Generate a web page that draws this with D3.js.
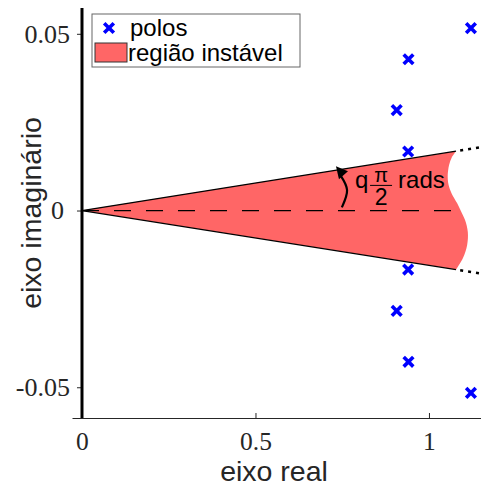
<!DOCTYPE html>
<html>
<head>
<meta charset="utf-8">
<script src="https://cdn.jsdelivr.net/npm/d3@7"></script>
<style>
  body { margin: 0; background: #fff; }
  svg { display: block; }
</style>
</head>
<body>
<div class="chart"></div>
<script>
// poles (real, imag)
const poleRe = [1.121, 0.941, 0.907, 0.940, 0.940, 0.907, 0.941, 1.121];
const poleIm = [0.0516, 0.0428, 0.0284, 0.0167, -0.0167, -0.0284, -0.0428, -0.0516];

// right edge of the unstable region, top corner to bottom corner
const edgeRe = [1.078, 1.066, 1.058, 1.054, 1.058, 1.066, 1.081, 1.092, 1.104, 1.112, 1.110, 1.098, 1.078];
const edgeIm = [0.0168, 0.0151, 0.0129, 0.0095, 0.0067, 0.0047, 0.0021, -0.0001, -0.0027, -0.0061, -0.0098, -0.0134, -0.0167];

// axis ticks
const xTicks = [0, 0.5, 1];
const xTickLabels = ['0', '0.5', '1'];
const yTicks = [0.05, 0, -0.05];
const yTickLabels = ['0.05', '0', '-0.05'];

const W = 481, H = 487;
const red = '#ff6666';
const grey = '#262626';

const svg = d3.select('.chart')
  .append('svg')
  .attr('width', W)
  .attr('height', H);

const x = d3.scaleLinear().domain([-0.0288, 1.15]).range([72, 481]);
const y = d3.scaleLinear().domain([-0.0587, 0.0573]).range([418, 8]);

// slope of the wedge edges (q*pi/2 lines)
const slope = edgeIm[0] / edgeRe[0];
const slopeLow = edgeIm[edgeIm.length - 1] / edgeRe[edgeRe.length - 1];

// unstable region
const edgePts = edgeRe.map((d, i) => [x(d), y(edgeIm[i])]);
const edgePath = d3.line().curve(d3.curveCatmullRom)(edgePts);
svg.append('path')
  .attr('d', `M${x(0)},${y(0)}L` + edgePath.slice(1) + 'Z')
  .attr('fill', red)
  .attr('stroke', 'none');

// wedge edges
[[edgeRe[0], edgeIm[0]], [edgeRe[edgeRe.length - 1], edgeIm[edgeIm.length - 1]]].forEach(p => {
  svg.append('line')
    .attr('x1', x(0)).attr('y1', y(0))
    .attr('x2', x(p[0])).attr('y2', y(p[1]))
    .attr('stroke', '#000')
    .attr('stroke-width', 1.3);
});

// dotted continuation past the edge
const xEnd = x.domain()[1];
[slope, slopeLow].forEach(s => {
  svg.append('line')
    .attr('x1', x(1.09)).attr('y1', y(1.09 * s))
    .attr('x2', x(xEnd)).attr('y2', y(xEnd * s))
    .attr('stroke', '#000')
    .attr('stroke-width', 2.5)
    .attr('stroke-dasharray', '3,5');
});

// dashed real axis
svg.append('line')
  .attr('x1', x(0)).attr('y1', y(0))
  .attr('x2', x(1.1)).attr('y2', y(0))
  .attr('stroke', '#000')
  .attr('stroke-width', 1.2)
  .attr('stroke-dasharray', '17,15');

// x axis
const xAxis = d3.axisBottom(x)
  .tickValues(xTicks)
  .tickFormat((d, i) => xTickLabels[i])
  .tickSizeInner(-5)
  .tickSizeOuter(0)
  .tickPadding(14);

const gx = svg.append('g')
  .attr('class', 'axis x-axis')
  .attr('transform', `translate(0, ${y.range()[0]})`)
  .call(xAxis);
gx.select('.domain').attr('stroke', grey);
gx.selectAll('line').attr('stroke', grey);
gx.selectAll('text')
  .attr('fill', grey)
  .attr('font-family', '"Liberation Serif", "DejaVu Serif", serif')
  .attr('font-size', 25.5);

// y axis (sits on x = 0)
const yAxis = d3.axisLeft(y)
  .tickValues(yTicks)
  .tickFormat((d, i) => yTickLabels[i])
  .tickSizeInner(5)
  .tickSizeOuter(0)
  .tickPadding(7);

const gy = svg.append('g')
  .attr('class', 'axis y-axis')
  .attr('transform', `translate(${x(0)}, 0)`)
  .call(yAxis);
gy.select('.domain').remove();
gy.selectAll('line').attr('stroke', grey);
gy.selectAll('text')
  .attr('fill', grey)
  .attr('font-family', '"Liberation Serif", "DejaVu Serif", serif')
  .attr('font-size', 26)
  .attr('dx', (d, i) => yTickLabels[i] === '0' ? -6 : 0);

// imaginary axis line
svg.append('line')
  .attr('x1', x(0)).attr('y1', y.range()[1])
  .attr('x2', x(0)).attr('y2', y.range()[0])
  .attr('stroke', '#000')
  .attr('stroke-width', 3);

// poles
const cross = d3.symbol(d3.symbolTimes, 62);
svg.selectAll('.pole')
  .data(poleRe.map((d, i) => ({re: d, im: poleIm[i]})))
  .enter()
  .append('path')
  .attr('class', 'pole')
  .attr('d', cross)
  .attr('transform', d => `translate(${x(d.re)},${y(d.im)})`)
  .attr('fill', 'none')
  .attr('stroke', '#0000ff')
  .attr('stroke-width', 3.6);

// angle annotation
const arcPts = [[0.749, 0.0009], [0.764, 0.0058], [0.746, 0.0098]];
svg.append('path')
  .attr('d', d3.line().curve(d3.curveCatmullRom)(arcPts.map(p => [x(p[0]), y(p[1])])))
  .attr('fill', 'none')
  .attr('stroke', '#000')
  .attr('stroke-width', 2.2);
const tip = [x(0.732), y(0.0125)];
svg.append('path')
  .attr('d', `M${tip[0]},${tip[1]}L${tip[0] + 12},${tip[1] + 5}L${tip[0] + 3},${tip[1] + 13}Z`)
  .attr('fill', '#000');

const ann = svg.append('g')
  .attr('font-family', '"Liberation Sans", Arial, sans-serif')
  .attr('fill', '#000');
const ax = x(0.787), ay = y(0.0064);
ann.append('text').attr('x', ax).attr('y', ay).attr('font-size', 24).text('q');
ann.append('text').attr('x', ax + 26).attr('y', ay - 6).attr('font-size', 20)
  .attr('text-anchor', 'middle').text('π');
ann.append('line')
  .attr('x1', ax + 15).attr('x2', ax + 37)
  .attr('y1', ay - 2.5).attr('y2', ay - 2.5)
  .attr('stroke', '#000').attr('stroke-width', 1);
ann.append('text').attr('x', ax + 26).attr('y', ay + 17).attr('font-size', 23)
  .attr('text-anchor', 'middle').text('2');
ann.append('text').attr('x', ax + 43).attr('y', ay).attr('font-size', 24).text('rads');

// axis labels
svg.append('text')
  .attr('x', 274)
  .attr('y', 481)
  .attr('text-anchor', 'middle')
  .attr('font-family', '"Liberation Sans", Arial, sans-serif')
  .attr('font-size', 28.5)
  .attr('fill', grey)
  .text('eixo real');

svg.append('text')
  .attr('transform', `translate(41, ${(y.range()[0] + y.range()[1]) / 2}) rotate(-90)`)
  .attr('text-anchor', 'middle')
  .attr('font-family', '"Liberation Sans", Arial, sans-serif')
  .attr('font-size', 28.5)
  .attr('fill', grey)
  .text('eixo imaginário');

// legend
const legend = svg.append('g')
  .attr('font-family', '"Liberation Sans", Arial, sans-serif')
  .attr('font-size', 24);
legend.append('rect')
  .attr('x', 92).attr('y', 14)
  .attr('width', 208).attr('height', 53)
  .attr('fill', '#fff')
  .attr('stroke', '#666')
  .attr('stroke-width', 1);
legend.append('path')
  .attr('d', cross)
  .attr('transform', 'translate(109,28)')
  .attr('fill', 'none')
  .attr('stroke', '#0000ff')
  .attr('stroke-width', 3.6);
legend.append('text').attr('x', 130).attr('y', 36).text('polos');
legend.append('rect')
  .attr('x', 95).attr('y', 43)
  .attr('width', 32).attr('height', 19)
  .attr('fill', red)
  .attr('stroke', '#333')
  .attr('stroke-width', 1);
legend.append('text').attr('x', 128).attr('y', 61).text('região instável');
</script>
</body>
</html>
